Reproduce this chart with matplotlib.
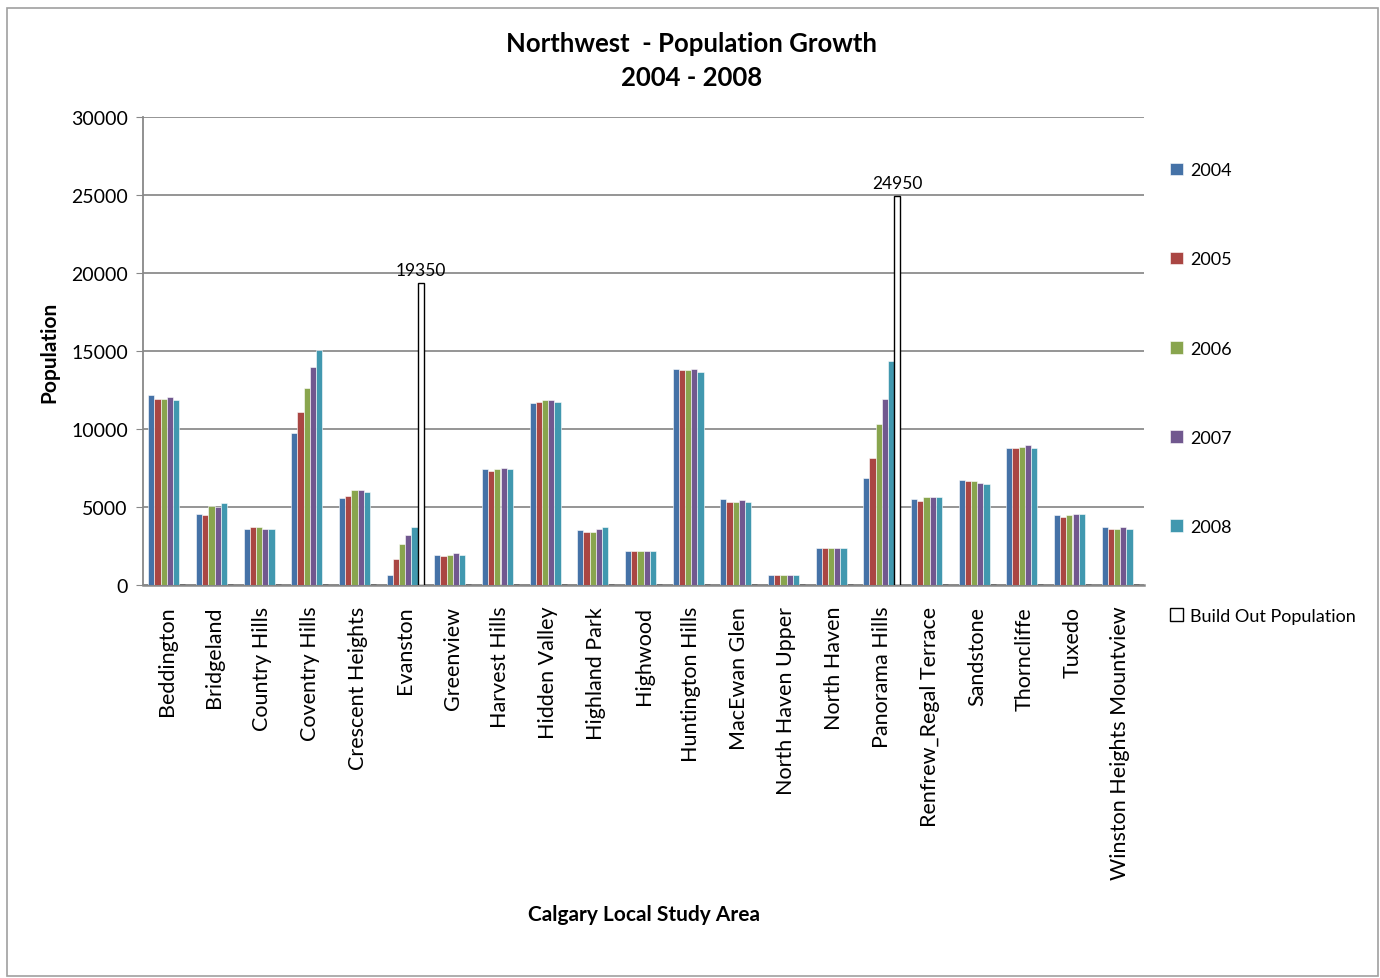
import matplotlib.pyplot as plt
import numpy as np
from matplotlib.patches import Rectangle

plt.rcParams['font.family'] = ['Lato', 'DejaVu Sans']

areas = ['Beddington', 'Bridgeland', 'Country Hills', 'Coventry Hills',
         'Crescent Heights', 'Evanston', 'Greenview', 'Harvest Hills',
         'Hidden Valley', 'Highland Park', 'Highwood', 'Huntington Hills',
         'MacEwan Glen', 'North Haven Upper', 'North Haven', 'Panorama Hills',
         'Renfrew_Regal Terrace', 'Sandstone', 'Thorncliffe', 'Tuxedo',
         'Winston Heights Mountview']

pop_2004 = [12200, 4550, 3580, 9720, 5600, 620, 1950, 7420, 11650, 3500, 2170,
            13860, 5520, 620, 2340, 6870, 5520, 6740, 8780, 4460, 3690]
pop_2005 = [11930, 4460, 3690, 11070, 5710, 1670, 1870, 7320, 11740, 3410, 2170,
            13760, 5320, 620, 2340, 8110, 5410, 6650, 8780, 4360, 3580]
pop_2006 = [11930, 5040, 3690, 12600, 6070, 2620, 1950, 7420, 11850, 3410, 2170,
            13760, 5320, 620, 2340, 10320, 5620, 6650, 8860, 4460, 3580]
pop_2007 = [12040, 4980, 3580, 13950, 6070, 3200, 2080, 7530, 11850, 3580, 2170,
            13860, 5430, 620, 2340, 11950, 5620, 6570, 8950, 4550, 3690]
pop_2008 = [11870, 5240, 3580, 15090, 5990, 3690, 1950, 7420, 11740, 3690, 2170,
            13670, 5320, 620, 2340, 14330, 5620, 6460, 8780, 4550, 3580]
build_out = [0, 0, 0, 0, 0, 19350, 0, 0, 0, 0, 0,
             0, 0, 0, 0, 24950, 0, 0, 0, 0, 0]

years = ['2004', '2005', '2006', '2007', '2008']
series = [pop_2004, pop_2005, pop_2006, pop_2007, pop_2008]
colors = ['#4572A7', '#AA4643', '#89A54E', '#71588F', '#4198AF']

fig = plt.figure(figsize=(13.8, 9.79), dpi=100)
ax = fig.add_axes([143 / 1380, 1 - 586 / 979, 1001 / 1380, 468 / 979])

x = np.arange(len(areas))
w = 0.13
offsets = (np.arange(6) - 2.5) * w

for vals, col, lab, off in zip(series, colors, years, offsets[:5]):
    ax.bar(x + off, vals, width=w, color=col, edgecolor='white',
           linewidth=0.4, label=lab, zorder=3)

bo = ax.bar(x + offsets[5], build_out, width=w, facecolor='white',
            edgecolor='black', linewidth=1.0, label='Build Out Population',
            zorder=3)
for rect, v in zip(bo, build_out):
    if v > 0:
        ax.text(rect.get_x() + rect.get_width() / 2, v + 300, str(v),
                ha='center', va='bottom', fontsize=12.5)

ax.set_xlim(-0.5, len(areas) - 0.5)
ax.set_ylim(0, 30000)
ax.set_yticks(np.arange(0, 30001, 5000))
ax.set_xticks(x)
ax.set_xticklabels(areas, rotation=90, fontsize=15.5)
ax.tick_params(axis='y', labelsize=14, length=5, color='#888888', pad=6)
ax.tick_params(axis='x', length=0, pad=15)
ax.grid(axis='y', color='#8c8c8c', linewidth=1.3, zorder=0)
for s in ['top', 'right']:
    ax.spines[s].set_visible(False)
ax.spines['left'].set_color('#888888')
ax.spines['bottom'].set_color('#888888')
ax.spines['left'].set_linewidth(1.3)
ax.spines['bottom'].set_linewidth(1.8)

ax.set_ylabel('Population', fontsize=15, fontweight='bold', labelpad=8)
ax.set_xlabel('Calgary Local Study Area', fontsize=15, fontweight='bold',
              labelpad=18)
fig.text(692 / 1380, 1 - 61 / 979, 'Northwest  - Population Growth\n2004 - 2008',
         ha='center', va='center', fontsize=18.5, fontweight='bold',
         linespacing=1.55)

leg = ax.legend(loc='upper left', bbox_to_anchor=(1154 / 1380, 1 - 147 / 979),
                bbox_transform=fig.transFigure, frameon=False, fontsize=13,
                handlelength=0.7, handleheight=0.7, handletextpad=0.4,
                labelspacing=4.05)

fig.patches.append(Rectangle((7 / 1380, 2 / 979), 1371 / 1380, 968 / 979,
                             transform=fig.transFigure, fill=False,
                             edgecolor='#a0a0a0', linewidth=1.2))

fig.savefig('out.png', dpi=100)
